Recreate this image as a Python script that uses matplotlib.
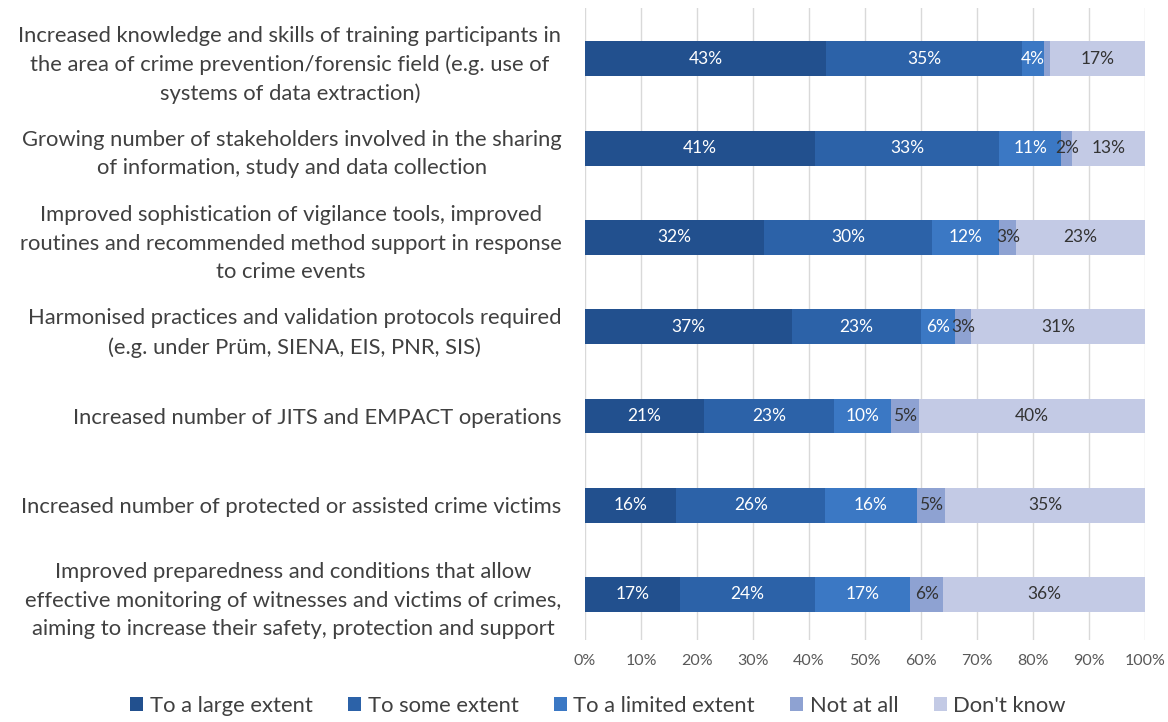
import numpy as np
import matplotlib.pyplot as plt

categories = [
    "Increased knowledge and skills of training participants in\nthe area of crime prevention/forensic field (e.g. use of\nsystems of data extraction)",
    "Growing number of stakeholders involved in the sharing\nof information, study and data collection",
    "Improved sophistication of vigilance tools, improved\nroutines and recommended method support in response\nto crime events",
    "Harmonised practices and validation protocols required\n(e.g. under Prüm, SIENA, EIS, PNR, SIS)",
    "Increased number of JITS and EMPACT operations",
    "Increased number of protected or assisted crime victims",
    "Improved preparedness and conditions that allow\neffective monitoring of witnesses and victims of crimes,\naiming to increase their safety, protection and support",
]
series_names = ["To a large extent", "To some extent", "To a limited extent", "Not at all", "Don't know"]
large_extent = [43, 41, 32, 37, 21, 16, 17]
some_extent = [35, 33, 30, 23, 23, 26, 24]
limited_extent = [4, 11, 12, 6, 10, 16, 17]
not_at_all = [1, 2, 3, 3, 5, 5, 6]
dont_know = [17, 13, 23, 31, 40, 35, 36]

colors = ["#22508E", "#2C62A8", "#3B78C4", "#8EA2D2", "#C3CAE5"]
text_colors = ["white", "white", "white", "#333333", "#333333"]

plt.rcParams["font.family"] = ["Lato", "DejaVu Sans"]

values = np.array([large_extent, some_extent, limited_extent, not_at_all, dont_know], dtype=float)
shares = values / values.sum(axis=0) * 100  # 100% stacked

fig = plt.figure(figsize=(11.68, 7.22), dpi=100)
ax = fig.add_axes([0.5009, 0.1136, 0.4795, 0.8754])

y = np.arange(len(categories))
left = np.zeros(len(categories))
handles = []
for i, name in enumerate(series_names):
    bars = ax.barh(y, shares[i], left=left, height=0.39, color=colors[i],
                   label=name, zorder=3)
    handles.append(bars)
    for j in range(len(categories)):
        if values[i, j] >= 2:
            ax.text(left[j] + shares[i, j] / 2, y[j], f"{int(values[i, j])}%",
                    ha="center", va="center", fontsize=12.5,
                    color=text_colors[i], zorder=4)
    left += shares[i]

ax.set_xlim(0, 100)
ax.set_ylim(6.51, -0.57)
ax.set_xticks(np.arange(0, 101, 10))
ax.set_xticklabels([f"{v}%" for v in range(0, 101, 10)], fontsize=11.5, color="#595959")
ax.set_yticks(y)
ax.set_yticklabels(categories, fontsize=15.8, color="#404040",
                   multialignment="center", linespacing=1.52)
ax.tick_params(axis="y", length=0, pad=17)
ax.tick_params(axis="x", length=0, pad=10)
ax.grid(axis="x", color="#D9D9D9", linewidth=1, zorder=0)
for s in ax.spines.values():
    s.set_visible(False)

fig.legend(handles=handles, labels=series_names, loc="center",
           bbox_to_anchor=(598 / 1168, 1 - 706 / 722), ncol=5, frameon=False,
           fontsize=15.8, handlelength=0.6, handleheight=0.6, handletextpad=0.3,
           columnspacing=1.6, labelcolor="#404040")

fig.savefig("out.png", dpi=100)
